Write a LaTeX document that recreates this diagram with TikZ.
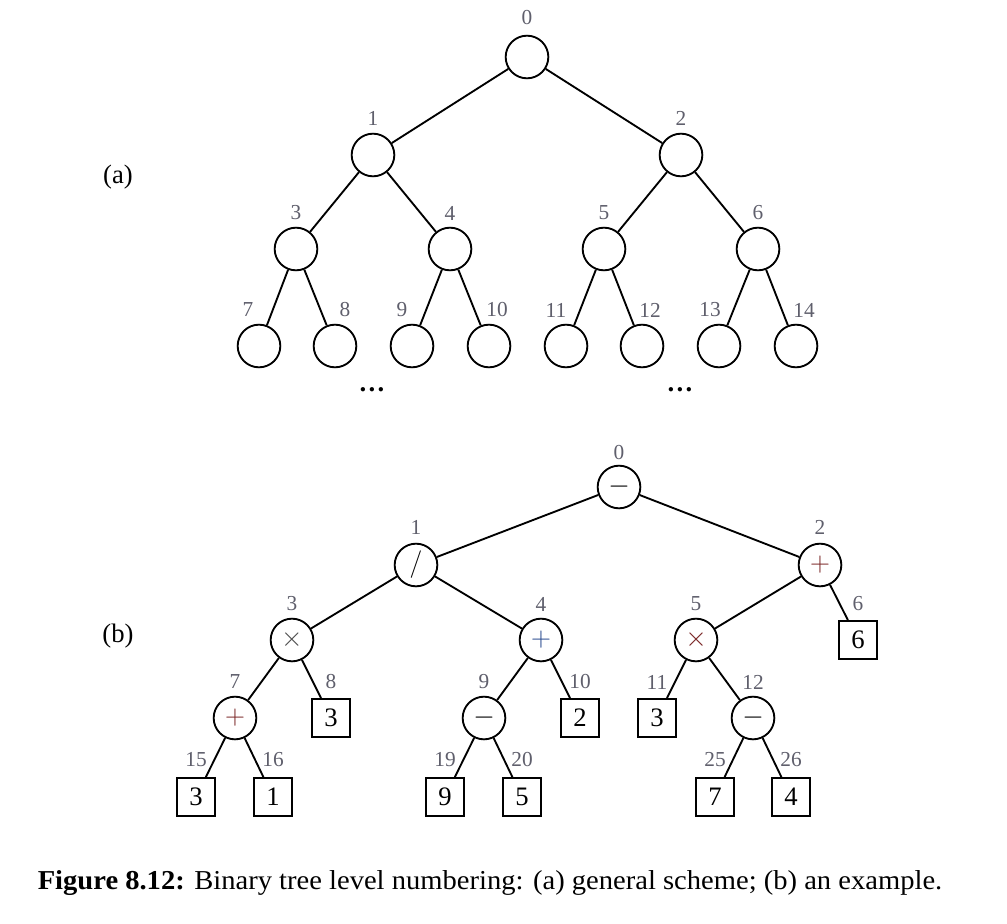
\documentclass[tikz,border=0pt]{standalone}
\usepackage{fontspec}
\setmainfont{Liberation Serif}
\definecolor{labgray}{RGB}{95,95,108}
\definecolor{opred}{RGB}{120,35,35}
\definecolor{opblue}{RGB}{35,70,140}
\begin{document}
\begin{tikzpicture}[x=0.75pt,y=-0.75pt,
  cnode/.style={circle,draw,line width=1.4pt,minimum size=32pt,inner sep=0pt,font=\fontsize{20}{24}\selectfont},
  bnode/.style={rectangle,draw,line width=1.4pt,minimum size=28.5pt,inner sep=0pt,font=\fontsize{20}{24}\selectfont},
  lab/.style={text=labgray,font=\fontsize{16}{18}\selectfont,inner sep=0pt},
  edge/.style={line width=1.4pt},
  side/.style={font=\fontsize{20}{24}\selectfont,inner sep=0pt}]
\useasboundingbox (0,0) rectangle (1007,924);

% ---------- (a) ----------
\node[side] (pa) at (118,177) {(a)};
\node[cnode] (a0) at (527,57) {};
\node[cnode] (a1) at (373,155) {};
\node[cnode] (a2) at (681,155) {};
\node[cnode] (a3) at (296,249) {};
\node[cnode] (a4) at (450,249) {};
\node[cnode] (a5) at (604,249) {};
\node[cnode] (a6) at (758,249) {};
\node[cnode] (a7) at (259,346) {};
\node[cnode] (a8) at (335,346) {};
\node[cnode] (a9) at (412,346) {};
\node[cnode] (a10) at (489,346) {};
\node[cnode] (a11) at (566,346) {};
\node[cnode] (a12) at (642,346) {};
\node[cnode] (a13) at (719,346) {};
\node[cnode] (a14) at (796,346) {};
\draw[edge] (a0) -- (a1); \draw[edge] (a0) -- (a2);
\draw[edge] (a1) -- (a3); \draw[edge] (a1) -- (a4);
\draw[edge] (a2) -- (a5); \draw[edge] (a2) -- (a6);
\draw[edge] (a3) -- (a7); \draw[edge] (a3) -- (a8);
\draw[edge] (a4) -- (a9); \draw[edge] (a4) -- (a10);
\draw[edge] (a5) -- (a11); \draw[edge] (a5) -- (a12);
\draw[edge] (a6) -- (a13); \draw[edge] (a6) -- (a14);
\node[lab] (la0) at (527,18) {0};
\node[lab] (la1) at (373,118) {1};
\node[lab] (la2) at (681,118) {2};
\node[lab] (la3) at (296,213) {3};
\node[lab] (la4) at (450,213) {4};
\node[lab] (la5) at (604,213) {5};
\node[lab] (la6) at (758,213) {6};
\node[lab] (la7) at (248,310) {7};
\node[lab] (la8) at (345,310) {8};
\node[lab] (la9) at (402,310) {9};
\node[lab] (la10) at (497,310) {10};
\node[lab] (la11) at (556,310) {11};
\node[lab] (la12) at (650,310) {12};
\node[lab] (la13) at (710,310) {13};
\node[lab] (la14) at (804,310) {14};
\node[side] (dl) at (372,390) {\textbf{\dots}};
\node[side] (dr) at (680,390) {\textbf{\dots}};

% ---------- (b) ----------
\node[side] (pb) at (118,636) {(b)};
\node[cnode] (b0) at (619,487) {$-$};
\node[cnode] (b1) at (416,565) {$/$};
\node[cnode,text=opred] (b2) at (820,565) {$+$};
\node[cnode,text=black!70] (b3) at (292,640) {$\times$};
\node[cnode,text=opblue] (b4) at (541,640) {$+$};
\node[cnode,text=opred] (b5) at (696,640) {$\times$};
\node[bnode] (b6) at (858,640) {6};
\node[cnode,text=opred] (b7) at (235,718) {$+$};
\node[bnode] (b8) at (331,718) {3};
\node[cnode] (b9) at (484,718) {$-$};
\node[bnode] (b10) at (580,718) {2};
\node[bnode] (b11) at (657,718) {3};
\node[cnode] (b12) at (753,718) {$-$};
\node[bnode] (b15) at (196,797) {3};
\node[bnode] (b16) at (273,797) {1};
\node[bnode] (b19) at (445,797) {9};
\node[bnode] (b20) at (522,797) {5};
\node[bnode] (b25) at (715,797) {7};
\node[bnode] (b26) at (791,797) {4};
\draw[edge] (b0) -- (b1); \draw[edge] (b0) -- (b2);
\draw[edge] (b1) -- (b3); \draw[edge] (b1) -- (b4);
\draw[edge] (b2) -- (b5); \draw[edge] (b2) -- (b6);
\draw[edge] (b3) -- (b7); \draw[edge] (b3) -- (b8);
\draw[edge] (b4) -- (b9); \draw[edge] (b4) -- (b10);
\draw[edge] (b5) -- (b11); \draw[edge] (b5) -- (b12);
\draw[edge] (b7) -- (b15); \draw[edge] (b7) -- (b16);
\draw[edge] (b9) -- (b19); \draw[edge] (b9) -- (b20);
\draw[edge] (b12) -- (b25); \draw[edge] (b12) -- (b26);
\node[lab] (lb0) at (619,453) {0};
\node[lab] (lb1) at (416,527) {1};
\node[lab] (lb2) at (820,527) {2};
\node[lab] (lb3) at (292,604) {3};
\node[lab] (lb4) at (541,604) {4};
\node[lab] (lb5) at (696,604) {5};
\node[lab] (lb6) at (858,604) {6};
\node[lab] (lb7) at (235,682) {7};
\node[lab] (lb8) at (331,682) {8};
\node[lab] (lb9) at (484,682) {9};
\node[lab] (lb10) at (580,682) {10};
\node[lab] (lb11) at (657,682) {11};
\node[lab] (lb12) at (753,682) {12};
\node[lab] (lb15) at (196,760) {15};
\node[lab] (lb16) at (273,760) {16};
\node[lab] (lb19) at (445,760) {19};
\node[lab] (lb20) at (522,760) {20};
\node[lab] (lb25) at (715,760) {25};
\node[lab] (lb26) at (791,760) {26};

% ---------- caption ----------
\node[inner sep=0pt,xscale=1.045,font=\fontsize{20.5}{24}\selectfont] (cap) at (490,883)
  {\textbf{Figure 8.12:} Binary tree level numbering: (a) general scheme; (b) an example.};
\end{tikzpicture}
\end{document}
